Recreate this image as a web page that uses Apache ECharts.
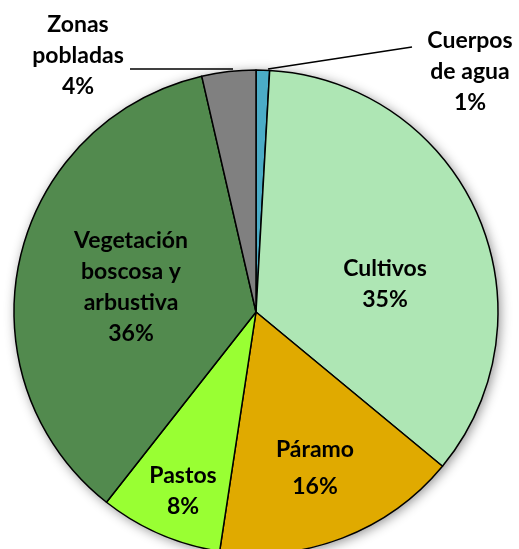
<!DOCTYPE html>
<html>
<head>
<meta charset="utf-8">
<script src="https://cdn.jsdelivr.net/npm/echarts@6/dist/echarts.min.js"></script>
<style>
    html, body { margin: 0; padding: 0; background: #fff; }
    #chart { width: 519px; height: 549px; }
</style>
</head>
<body>
<div id="chart"></div>
<script>
// categorías y valores (%)
var categories = ['Cuerpos de agua', 'Cultivos', 'Páramo', 'Pastos', 'Vegetación boscosa y arbustiva', 'Zonas pobladas'];
var labelTexts = ['Cuerpos\nde agua', 'Cultivos', 'Páramo', 'Pastos', 'Vegetación\nboscosa y\narbustiva', 'Zonas\npobladas'];
var values = [0.9, 35.1, 16.4, 8.2, 35.8, 3.6];
var colors = ['#4BACC6', '#AEE6B4', '#E0AA00', '#99FF33', '#528A4E', '#808080'];

// posiciones de etiquetas (px)
var labelPos = [
    [470, 72],
    [385, 284],
    [315, 468],
    [183, 491],
    [131, 287],
    [78, 56]
];

var chart = echarts.init(document.getElementById('chart'));

var data = values.map(function (v, i) {
    var item = {
        value: v,
        name: categories[i],
        itemStyle: {color: colors[i]}
    };
    if (i === 2) {
        item.label = {lineHeight: 37};
    }
    return item;
});

var option = {
    animation: false,
    // líneas guía de las etiquetas externas
    graphic: [
        {
            type: 'polyline',
            z: 10,
            shape: {points: [[268, 69], [412, 47]]},
            style: {stroke: '#000', lineWidth: 1.5, fill: null}
        },
        {
            type: 'polyline',
            z: 10,
            shape: {points: [[233, 69], [130, 69]]},
            style: {stroke: '#000', lineWidth: 1.5, fill: null}
        }
    ],
    series: [
        {
            // sombra del círculo
            type: 'pie',
            silent: true,
            center: [256, 312],
            radius: 242,
            label: {show: false},
            labelLine: {show: false},
            itemStyle: {
                color: '#fff',
                shadowBlur: 12,
                shadowOffsetX: 2,
                shadowOffsetY: 2,
                shadowColor: 'rgba(0,0,0,0.45)'
            },
            data: [{value: 1}]
        },
        {
            type: 'pie',
            center: [256, 312],
            radius: 242,
            startAngle: 90,
            clockwise: true,
            minAngle: 0,
            avoidLabelOverlap: false,
            itemStyle: {
                borderColor: '#000',
                borderWidth: 1.5
            },
            label: {
                show: true,
                position: 'inside',
                fontFamily: 'Lato',
                fontWeight: 'bold',
                fontSize: 23,
                lineHeight: 31,
                color: '#000',
                align: 'center',
                formatter: function (p) {
                    return labelTexts[p.dataIndex] + '\n' + Math.round(p.value) + '%';
                }
            },
            labelLine: {show: false},
            labelLayout: function (params) {
                var i = params.dataIndex;
                return {
                    x: labelPos[i][0],
                    y: labelPos[i][1],
                    align: 'center',
                    verticalAlign: 'middle'
                };
            },
            data: data
        }
    ]
};

chart.setOption(option);
</script>
</body>
</html>
